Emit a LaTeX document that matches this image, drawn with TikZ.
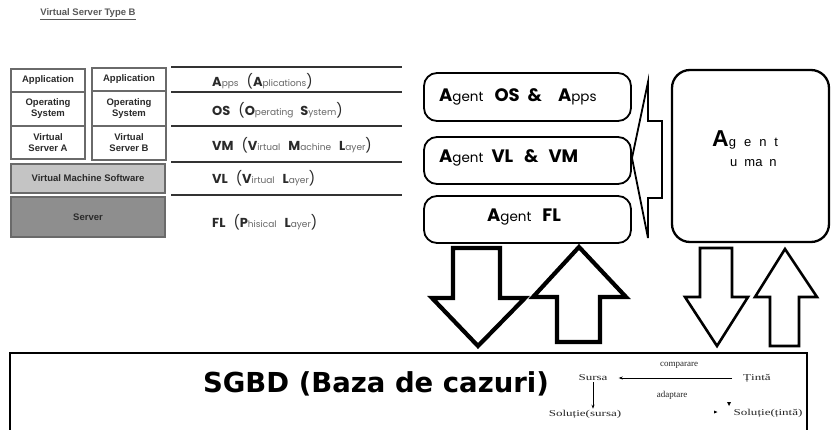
\documentclass[tikz,border=0pt]{standalone}
\usepackage{fontspec}
\setmainfont{Liberation Sans}
\newfontfamily\geo{Poppins}
\newfontfamily\dvs{DejaVu Sans}
\newfontfamily\ser{Liberation Serif}
\usetikzlibrary{arrows.meta}
\definecolor{boxline}{HTML}{6A6A6A}
\definecolor{vmsfill}{HTML}{C4C4C4}
\definecolor{srvfill}{HTML}{8E8E8E}
\definecolor{txtdark}{HTML}{2A2A2A}
\newcommand\LB[1]{{\geo\bfseries\fontsize{13}{13}\selectfont #1}}
\newcommand\LS[1]{{\geo\fontsize{9}{9}\selectfont\color{black!60}#1}}
\newcommand\LP[1]{{\geo\fontsize{14}{14}\selectfont #1}}
\newcommand\AB[1]{{\geo\bfseries\fontsize{18}{18}\selectfont #1}}
\newcommand\AS[1]{{\geo\fontsize{13.5}{14}\selectfont #1}}
\newcommand\MW[1]{\scalebox{1.45}[1]{#1}}
\tikzset{
  lbox/.style={draw=boxline, line width=1.2pt, inner sep=0pt, align=center,
    text=txtdark, font=\bfseries\fontsize{9.5}{11}\selectfont},
  sepline/.style={draw=black!80, line width=1.3pt},
  laylabel/.style={anchor=west, inner sep=0pt, text=txtdark},
  agentbox/.style={draw, line width=1.8pt, rounded corners=13pt,
    minimum width=207pt, minimum height=47pt, inner sep=0pt},
  fatarrow/.style={draw, line width=4.2pt, fill=white, line join=miter, miter limit=10},
  thinarrow/.style={draw, line width=2.6pt, fill=white, line join=miter, miter limit=10},
  mini/.style={inner sep=1pt, text=black!85, font=\ser\fontsize{9}{10}\selectfont},
}
\begin{document}
\begin{tikzpicture}[x=1pt,y=-1pt]
\useasboundingbox (0,0) rectangle (831,429);
\fill[white] (0,0) rectangle (831,429);

% title
\node[text=black!65, font=\bfseries\fontsize{9.5}{10}\selectfont, inner sep=0pt] (title) at (88,14) {\underline{Virtual Server Type B}};

% left stack
\node[lbox, minimum width=74pt, minimum height=23pt] (appA) at (48,80.5) {Application};
\node[lbox, minimum width=74pt, minimum height=34pt] (osA) at (48,109) {Operating\\System};
\node[lbox, minimum width=74pt, minimum height=33pt] (vsA) at (48,142.5) {Virtual\\Server A};
\node[lbox, minimum width=74pt, minimum height=23pt] (appB) at (129,79.5) {Application};
\node[lbox, minimum width=74pt, minimum height=35pt] (osB) at (129,108.5) {Operating\\System};
\node[lbox, minimum width=74pt, minimum height=34pt] (vsB) at (129,143) {Virtual\\Server B};
\node[lbox, fill=vmsfill, minimum width=154pt, minimum height=29pt] (vms) at (88,178.5) {Virtual Machine Software};
\node[lbox, fill=srvfill, minimum width=154pt, minimum height=40pt] (srv) at (88,217) {Server};

% layer separators
\foreach \yy in {67,92,126,162,195} {\draw[sepline] (171,\yy) -- (402,\yy);}

% layer labels
\node[laylabel] (lapps) at (212,81) {\LB{A}\LS{pps}\hspace{8pt}\LP{(}\LB{A}\LS{plications}\LP{)}};
\node[laylabel] (los) at (212,110) {\LB{OS}\hspace{8pt}\LP{(}\LB{O}\LS{perating}\hspace{7pt}\LB{S}\LS{ystem}\LP{)}};
\node[laylabel] (lvm) at (212,145) {\LB{VM}\hspace{8pt}\LP{(}\LB{V}\LS{irtual}\hspace{8pt}\LB{M}\LS{achine}\hspace{8pt}\LB{L}\LS{ayer}\LP{)}};
\node[laylabel] (lvl) at (212,178) {\LB{VL}\hspace{8pt}\LP{(}\LB{V}\LS{irtual}\hspace{8pt}\LB{L}\LS{ayer}\LP{)}};
\node[laylabel] (lfl) at (212,222) {\LB{FL}\hspace{8pt}\LP{(}\LB{P}\LS{hisical}\hspace{8pt}\LB{L}\LS{ayer}\LP{)}};

% agent boxes
\node[agentbox, minimum height=48pt] (agos) at (527.5,97) {};
\node[anchor=west, inner sep=0pt] (agostxt) at (439,97) {\AB{A}\AS{gent}\hspace{11pt}\AB{OS}\hspace{8pt}\AB{\&}\hspace{16pt}\AB{A}\AS{pps}};
\node[agentbox] (agvl) at (527.5,160.5) {};
\node[anchor=west, inner sep=0pt] (agvltxt) at (439,158) {\AB{A}\AS{gent}\hspace{8pt}\AB{VL}\hspace{11pt}\AB{\&}\hspace{10pt}\AB{VM}};
\node[agentbox] (agfl) at (527.5,219.5) {};
\node[inner sep=0pt] (agfltxt) at (524,217) {\AB{A}\AS{gent}\hspace{11pt}\AB{FL}};

% agent uman
\node[draw, line width=2.3pt, rounded corners=18pt, minimum width=157pt, minimum height=172pt, inner sep=0pt] (human) at (750.5,156) {};
\node[anchor=west, inner sep=0pt] (humant1) at (712,140) {{\bfseries\fontsize{23}{23}\selectfont A}{\fontsize{13}{13}\selectfont g\hspace{8pt}e\hspace{8pt}n\hspace{8pt}t}};
\node[anchor=west, inner sep=0pt] (humant2) at (730,163) {\fontsize{13}{13}\selectfont u\hspace{7pt}ma\hspace{7pt}n};

% big left-pointing arrow
\draw[line width=1.8pt, line join=miter] (632,158) -- (648,82) -- (648,121) -- (662,121) -- (662,198) -- (648,198) -- (648,238) -- cycle;

% vertical fat arrows
\draw[fatarrow] (453,248) -- (500,248) -- (500,298) -- (525,298) -- (478,346) -- (432,298) -- (453,298) -- cycle;
\draw[fatarrow] (579,247) -- (626,297) -- (600,297) -- (600,342) -- (557,342) -- (557,297) -- (533,297) -- cycle;
\draw[thinarrow] (700,248) -- (732,248) -- (732,297) -- (748,297) -- (717,346) -- (685,297) -- (700,297) -- cycle;
\draw[thinarrow] (785,249) -- (817,297) -- (799,297) -- (799,346) -- (770,346) -- (770,297) -- (755,297) -- cycle;

% SGBD box
\node[draw, line width=1.8pt, minimum width=797pt, minimum height=90pt, inner sep=0pt, anchor=north west] (sgbd) at (9,352) {};
\node[inner sep=0pt] (sgbdtxt) at (376,384) {\dvs\bfseries\fontsize{27.5}{28}\selectfont SGBD (Baza de cazuri)};

% mini CBR diagram
\node[mini] (comp) at (679,365) {comparare};
\node[mini, inner xsep=11pt] (sursa) at (593,378) {\MW{Sursa}};
\node[mini, inner xsep=11pt] (tinta) at (757,378) {\MW{Țintă}};
\node[mini] (adapt) at (672,395) {adaptare};
\node[mini] (solS) at (585,414) {\MW{Soluție(sursa)}};
\node[mini] (solT) at (768,413) {\MW{Soluție(țintă)}};
\draw[line width=0.6pt, -{Stealth[length=4pt,width=3pt]}] (tinta.west) -- (sursa.east);
\draw[line width=0.6pt, -{Stealth[length=4pt,width=3pt]}] (sursa.south) -- (sursa.south |- solS.north);
\fill (727,402) -- (731,402) -- (729,406) -- cycle;
\fill (714,410.5) -- (717.5,412) -- (714,413.5) -- cycle;
\end{tikzpicture}
\end{document}
